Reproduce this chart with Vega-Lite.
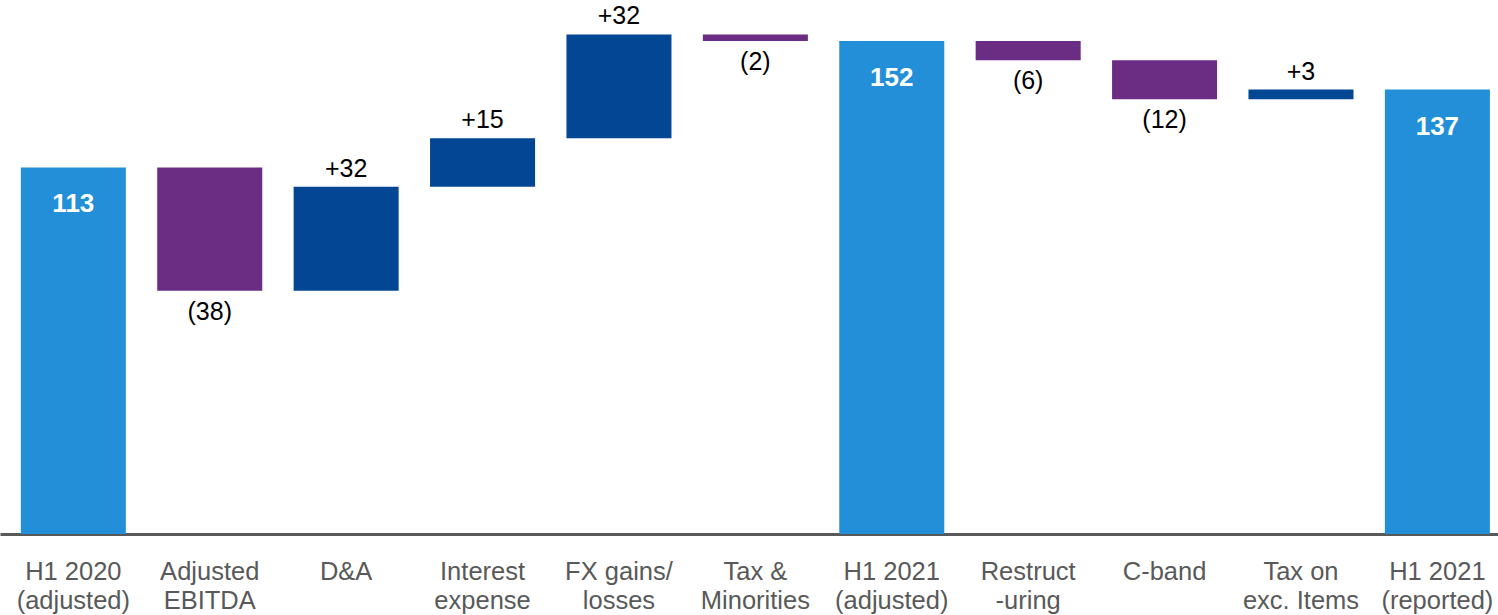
{
  "$schema": "https://vega.github.io/schema/vega-lite/v6.json",
  "width": 1498,
  "height": 534,
  "autosize": {"type": "none"},
  "padding": {"top": 0, "left": 0, "right": 0, "bottom": 81},
  "background": "white",
  "config": {
    "view": {"stroke": null},
    "font": "Liberation Sans"
  },
  "data": {
    "values": [
      {"cat": "H1 2020|(adjusted)", "start": 0, "end": 113, "type": "total", "label": "113"},
      {"cat": "Adjusted|EBITDA", "start": 113, "end": 75, "type": "decrease", "label": "(38)"},
      {"cat": "D&A", "start": 75, "end": 107, "type": "increase", "label": "+32"},
      {"cat": "Interest|expense", "start": 107, "end": 122, "type": "increase", "label": "+15"},
      {"cat": "FX gains/|losses", "start": 122, "end": 154, "type": "increase", "label": "+32"},
      {"cat": "Tax &|Minorities", "start": 154, "end": 152, "type": "decrease", "label": "(2)"},
      {"cat": "H1 2021|(adjusted)", "start": 0, "end": 152, "type": "total", "label": "152"},
      {"cat": "Restruct|-uring", "start": 152, "end": 146, "type": "decrease", "label": "(6)"},
      {"cat": "C-band", "start": 146, "end": 134, "type": "decrease", "label": "(12)"},
      {"cat": "Tax on|exc. Items", "start": 134, "end": 137, "type": "increase", "label": "+3"},
      {"cat": "H1 2021|(reported)", "start": 0, "end": 137, "type": "total", "label": "137"}
    ]
  },
  "encoding": {
    "x": {
      "field": "cat",
      "type": "nominal",
      "sort": null,
      "scale": {"paddingInner": 0.23, "paddingOuter": 0.106, "align": 0.72},
      "axis": {
        "title": null,
        "labelAngle": 0,
        "ticks": false,
        "domainColor": "#595959",
        "domainWidth": 3,
        "labelFont": "Liberation Sans",
        "labelFontSize": 25.5,
        "labelColor": "#595959",
        "labelPadding": 25,
        "labelLineHeight": 29,
        "labelExpr": "split(datum.label, '|')"
      }
    }
  },
  "layer": [
    {
      "mark": {"type": "bar"},
      "encoding": {
        "y": {"field": "start", "type": "quantitative", "scale": {"domain": [0, 164.6], "nice": false, "zero": false}, "axis": null},
        "y2": {"field": "end"},
        "color": {
          "field": "type",
          "type": "nominal",
          "scale": {"domain": ["total", "increase", "decrease"], "range": ["#238FD8", "#034694", "#6B2D83"]},
          "legend": null
        }
      }
    },
    {
      "transform": [{"filter": "datum.type == 'increase'"}],
      "mark": {"type": "text", "baseline": "alphabetic", "dy": -10, "fontSize": 25, "color": "#000000", "font": "Liberation Sans"},
      "encoding": {
        "y": {"field": "end", "type": "quantitative"},
        "text": {"field": "label"}
      }
    },
    {
      "transform": [{"filter": "datum.type == 'decrease'"}],
      "mark": {"type": "text", "baseline": "alphabetic", "dy": 29, "fontSize": 25, "color": "#000000", "font": "Liberation Sans"},
      "encoding": {
        "y": {"field": "end", "type": "quantitative"},
        "text": {"field": "label"}
      }
    },
    {
      "transform": [{"filter": "datum.type == 'total'"}],
      "mark": {"type": "text", "baseline": "middle", "dy": 37, "fontSize": 26, "fontWeight": "bold", "color": "#FFFFFF", "font": "Liberation Sans"},
      "encoding": {
        "y": {"field": "end", "type": "quantitative"},
        "text": {"field": "label"}
      }
    }
  ]
}
